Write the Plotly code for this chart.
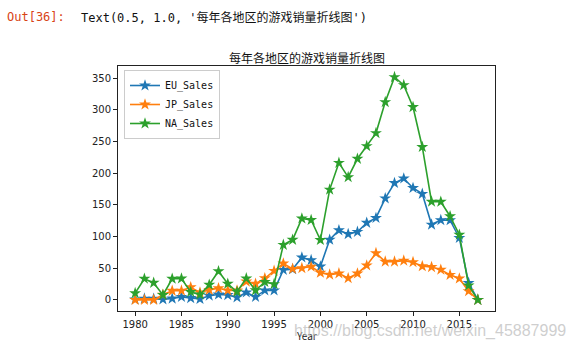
import plotly.graph_objects as go

years = list(range(1980, 2018))
eu_sales = [0.67, 1.96, 1.65, 0.80, 2.10, 4.74, 2.84, 1.41, 6.59, 8.44,
            7.63, 3.95, 11.71, 4.65, 14.88, 14.90, 47.26, 48.32, 66.90, 62.67,
            52.75, 94.89, 109.74, 103.81, 107.27, 121.56, 129.24, 160.18, 184.40, 191.59,
            176.57, 167.31, 118.78, 125.80, 125.65, 97.71, 26.76, 0.0]
jp_sales = [0.0, 0.0, 0.0, 8.10, 14.27, 14.56, 19.81, 11.63, 15.76, 18.36,
            14.88, 14.78, 28.91, 25.33, 33.99, 45.75, 57.44, 48.87, 50.04, 52.34,
            42.77, 39.86, 41.76, 34.20, 41.65, 54.28, 73.73, 60.29, 60.26, 61.89,
            59.49, 53.04, 51.80, 47.59, 39.46, 33.72, 13.70, 0.05]
na_sales = [10.59, 33.40, 26.92, 7.76, 33.28, 33.73, 12.50, 8.46, 23.87, 45.15,
            25.46, 12.76, 33.87, 15.12, 28.15, 24.82, 86.76, 94.75, 128.36, 126.06,
            94.49, 173.98, 216.19, 193.59, 222.59, 242.61, 263.12, 312.05, 351.44, 338.85,
            304.24, 241.21, 154.96, 154.77, 131.97, 102.82, 22.66, 0.0]
series_names = ["EU_Sales", "JP_Sales", "NA_Sales"]
colors = ["#1f77b4", "#ff7f0e", "#2ca02c"]
x_ticks = [1980, 1985, 1990, 1995, 2000, 2005, 2010, 2015]
y_ticks = [0, 50, 100, 150, 200, 250, 300, 350]
title_text = "每年各地区的游戏销量折线图"

fig = go.Figure()
for name, vals, c in zip(series_names, [eu_sales, jp_sales, na_sales], colors):
    fig.add_trace(go.Scatter(
        x=years, y=vals, name=name, mode="lines+markers",
        line=dict(color=c, width=1.6),
        marker=dict(symbol="star", size=9, color=c, line=dict(width=0)),
    ))

L, R, T, B = 118, 495, 66, 311
W, H = 572, 351
def px(x):
    return (x - L) / (R - L)
def py(y):
    return (B - y) / (B - T)

mono = "DejaVu Sans Mono, Noto Sans CJK SC"
annots = [
    dict(text="Out[36]:", x=px(5), y=py(17), xanchor="left", yanchor="middle",
         font=dict(family=mono, size=12, color="#d84315")),
    dict(text="Text(0.5, 1.0, '" + title_text + "')", x=px(79), y=py(17),
         xanchor="left", yanchor="middle", font=dict(family=mono, size=12, color="#111")),
    dict(text=title_text, x=0.5, y=py(57), xanchor="center", yanchor="middle",
         font=dict(family="Noto Sans CJK SC", size=12, color="#111")),
    dict(text="Year", x=px(306), y=py(335), xanchor="center", yanchor="middle",
         font=dict(family="Noto Sans CJK SC", size=10, color="#222")),
    dict(text="https://blog.csdn.net/weixin_45887999", x=px(292), y=py(331),
         xanchor="left", yanchor="middle",
         font=dict(family="Liberation Sans, Arial", size=16, color="rgba(190,190,190,0.75)")),
]
for a in annots:
    a.update(xref="paper", yref="paper", showarrow=False)

axis_common = dict(showgrid=False, zeroline=False, showline=True, mirror=True,
                   linecolor="#222", linewidth=1, ticks="outside", ticklen=4,
                   tickcolor="#222", tickwidth=1,
                   tickfont=dict(family="DejaVu Sans, Noto Sans CJK SC", size=10, color="#222"))

fig.update_layout(
    width=W, height=H,
    margin=dict(l=L, r=W - R, t=T, b=H - B),
    paper_bgcolor="white", plot_bgcolor="white",
    showlegend=True,
    legend=dict(x=px(124), y=py(70), xanchor="left", yanchor="top",
                bgcolor="rgba(255,255,255,0.8)", bordercolor="#ccc", borderwidth=1,
                font=dict(family=mono, size=10, color="#111"),
                itemwidth=30, tracegroupgap=0),
    annotations=annots,
    xaxis=dict(range=[1978.15, 2018.85], tickvals=x_ticks, **axis_common),
    yaxis=dict(range=[-17.57, 369.0], tickvals=y_ticks, **axis_common),
)

fig.write_html("out.html")
